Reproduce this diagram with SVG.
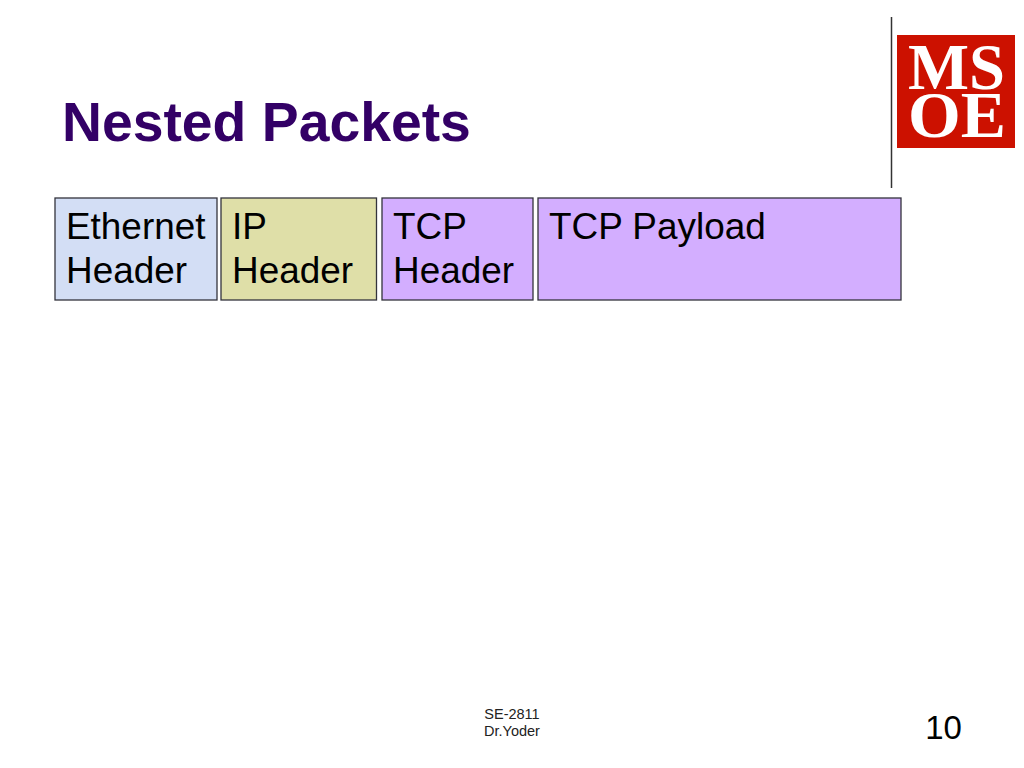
<svg xmlns="http://www.w3.org/2000/svg" width="1024" height="768" viewBox="0 0 1024 768">
<style>
text{font-family:"Liberation Sans",Arial,sans-serif;fill:#000}
.box{stroke:#33333c;stroke-width:1.3}
.lbl{font-size:36.9px}
.foot{font-size:14.5px;fill:#222}
.logo{font-family:"Liberation Serif","Times New Roman",serif;fill:#fff;font-size:66px;font-weight:700}
</style>
<rect width="1024" height="768" fill="#fff"/>
<text x="62" y="141" font-size="55.3" font-weight="700" style="fill:#330066">Nested Packets</text>
<g id="divider"><line x1="891.500" y1="17" x2="891.500" y2="188" stroke="#333" stroke-width="1.500"/></g>
<g id="logo">
<rect x="897" y="35" width="118" height="113" fill="#cc1100"/>
<text class="logo"><tspan x="908" y="89" textLength="97" lengthAdjust="spacingAndGlyphs">MS</tspan><tspan x="908" y="136.500" textLength="98" lengthAdjust="spacingAndGlyphs">OE</tspan></text>
</g>
<g id="ethernet-header">
<rect class="box" x="55" y="198" width="162" height="102" fill="#d3def5"/>
<text class="lbl" x="66" y="239">Ethernet</text><text class="lbl" x="66" y="283">Header</text>
</g>
<g id="ip-header">
<rect class="box" x="221" y="198" width="155.500" height="102" fill="#dfdfa8"/>
<text class="lbl" x="232" y="239">IP</text><text class="lbl" x="232" y="283">Header</text>
</g>
<g id="tcp-header">
<rect class="box" x="382" y="198" width="151" height="102" fill="#d3aeff"/>
<text class="lbl" x="393" y="239">TCP</text><text class="lbl" x="393" y="283">Header</text>
</g>
<g id="tcp-payload">
<rect class="box" x="538" y="198" width="363" height="102" fill="#d3aeff"/>
<text class="lbl" x="549" y="239">TCP Payload</text>
</g>
<g id="connectors"></g>
<g id="footer">
<text class="foot" x="512" y="719" text-anchor="middle">SE-2811</text>
<text class="foot" x="512" y="736" text-anchor="middle">Dr.Yoder</text>
<text x="943.500" y="739" font-size="33" text-anchor="middle">10</text>
</g>
</svg>
